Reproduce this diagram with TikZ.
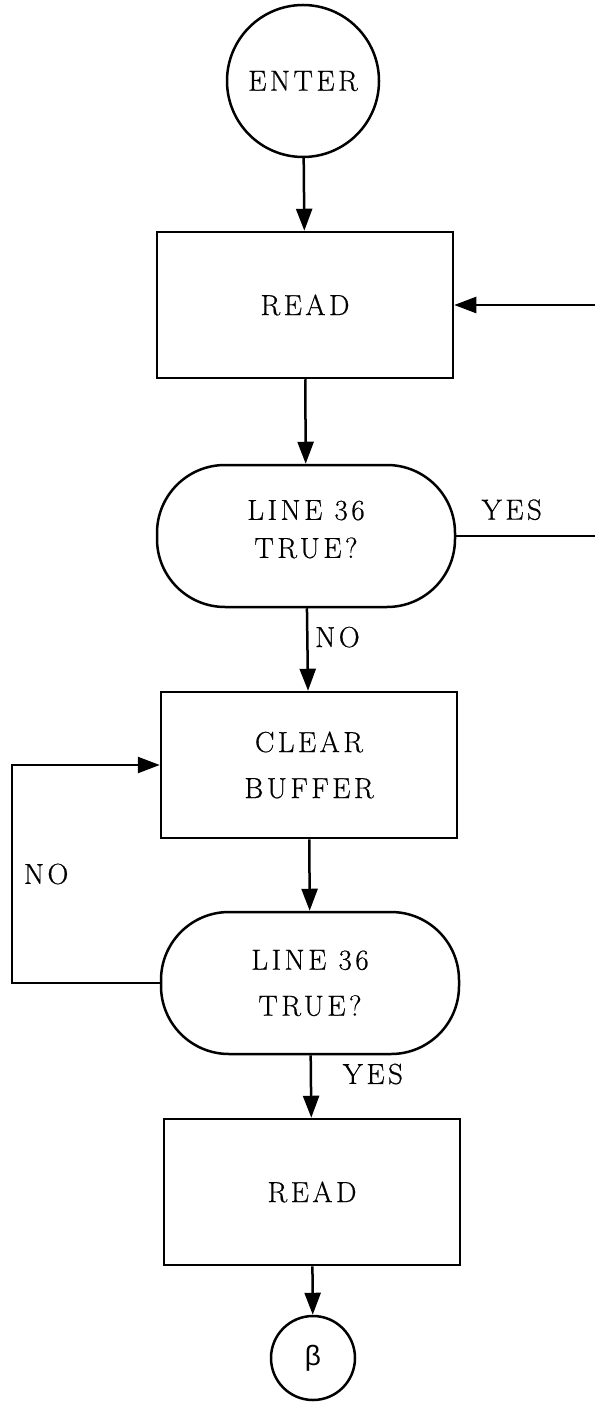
\documentclass[tikz,border=0pt]{standalone}
\usepackage{fontspec}
\setmainfont{Latin Modern Roman}[LetterSpace=12, FakeBold=0.6]
\newfontfamily\greekfont{Liberation Sans}
\usetikzlibrary{arrows.meta}

\tikzset{
	arr/.style={-{Triangle[length=11pt,width=8pt]}},
	box/.style={rectangle, draw, minimum width=148pt, minimum height=73pt},
	test/.style={rectangle, draw, rounded corners=34pt, minimum width=149pt, minimum height=71pt, align=center},
	tag/.style={font=\fontsize{14.5}{23}\selectfont}
}

\begin{document}
\begin{tikzpicture}[x=0.5pt, y=-0.5pt, line width=1.25pt, font=\fontsize{14.5}{23}\selectfont]
					\useasboundingbox (0,0) rectangle (595,1406);

					\node[circle, draw, minimum size=76pt, inner sep=0pt] (enter) at (303, 81) {ENTER};
					\node[box] (read) at (305, 305) {READ};
					\node[test, font=\fontsize{14.5}{19}\selectfont] (line1) at (306, 536) {LINE 36\\TRUE?\\[-12pt]};
					\node[box, align=center] (clear) at (309, 765) {CLEAR\\BUFFER};
					\node[test] (line2) at (310, 983) {LINE 36\\TRUE?};
					\node[box] (readagain) at (312, 1192) {READ};
					\node[circle, draw, minimum size=42pt, inner sep=0pt, font=\greekfont\fontsize{14}{16}\selectfont] (beta) at (313, 1358) {β};

					\coordinate (back) at (595, 305);
					\coordinate (yes) at (595, 536);
					\coordinate (corner) at (12, 983);

					\draw[arr] (enter) -- (read);
					\draw[arr] (back) -- (read);
					\draw[arr] (read) -- (line1);
					\draw (line1) -- node[tag, above, pos=0.4, yshift=4pt] {YES} (yes);
					\draw[arr] (line1) -- node[tag, right, pos=0.35] {NO} (clear);
					\draw[arr] (clear) -- (line2);
					\draw[arr] (line2.west) -- (corner) |- node[tag, pos=0.25, right, xshift=2pt] {NO} (clear.west);
					\draw[arr] (line2) -- node[tag, right, pos=0.3, xshift=12pt] {YES} (readagain);
					\draw[arr] (readagain) -- (beta);
				\end{tikzpicture}
\end{document}
